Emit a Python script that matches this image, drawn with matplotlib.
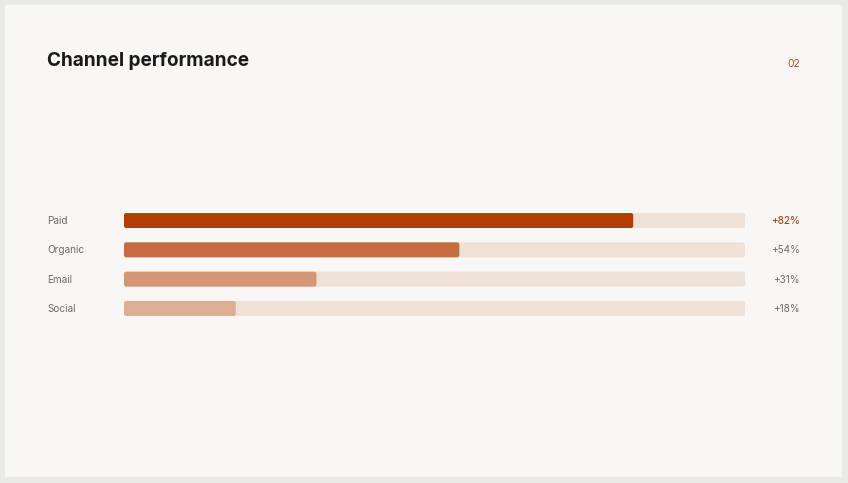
import matplotlib
matplotlib.use("Agg")
import matplotlib.pyplot as plt
from matplotlib.patches import FancyBboxPatch, Rectangle

categories = ["Paid", "Organic", "Email", "Social"]
values = [82, 54, 31, 18]
value_labels = ["+82%", "+54%", "+31%", "+18%"]
bar_colors = ["#b33d05", "#c46e40", "#d49677", "#dcae93"]

W, H = 848, 483
fig = plt.figure(figsize=(W / 100, H / 100), dpi=100)
fig.patch.set_facecolor("#e9e9e7")

def fx(px):
    return px / W

def fy(py):
    return 1 - py / H

fig.patches.append(Rectangle((fx(5), fy(477)), fx(837), (477 - 5) / H,
                             transform=fig.transFigure, facecolor="#f9f7f5",
                             edgecolor="none", zorder=-10))

font = ["Inter", "DejaVu Sans"]
fig.text(fx(47), fy(61.5), "Channel performance", fontsize=13.7, fontweight="bold",
         color="#1a1a1a", va="center", ha="left", family=font)
fig.text(fx(800), fy(64), "02", fontsize=7.5, color="#a0522d", va="center",
         ha="right", family=font)

row_px = 29.3
left, right = 124, 745
center = (220.5 + 308.5) / 2
ax_h = 4 * row_px
ax = fig.add_axes([fx(left), fy(center + ax_h / 2), (right - left) / W, ax_h / H])
ax.set_zorder(5)
ax.set_xlim(0, 100)
ax.set_ylim(3.5, -0.5)
ax.axis("off")

bar_h = 15 / row_px
x_per_px = 100 / (right - left)
y_per_px = 1 / row_px
aspect = y_per_px / x_per_px
rad = 2.2 * x_per_px

for i, (cat, v, lab, c) in enumerate(zip(categories, values, value_labels, bar_colors)):
    track = FancyBboxPatch((0, i - bar_h / 2), 100, bar_h,
                           boxstyle=f"round,pad=0,rounding_size={rad}",
                           mutation_aspect=aspect, facecolor="#f0e1d7",
                           edgecolor="none", zorder=1)
    ax.add_patch(track)
    bar = FancyBboxPatch((0, i - bar_h / 2), v, bar_h,
                         boxstyle=f"round,pad=0,rounding_size={rad}",
                         mutation_aspect=aspect, facecolor=c,
                         edgecolor="none", zorder=2)
    ax.add_patch(bar)
    ypix = 221 + i * row_px
    fig.text(fx(47), fy(ypix), cat, fontsize=7.2, color="#6b6b6b", va="center",
             ha="left", family=font)
    fig.text(fx(800), fy(ypix), lab, fontsize=7.2, color="#a04a20" if i == 0 else "#6b6b6b",
             va="center", ha="right", family=font,
             fontweight="medium" if i == 0 else "normal")

fig.savefig("out.png", dpi=100, facecolor=fig.get_facecolor())
